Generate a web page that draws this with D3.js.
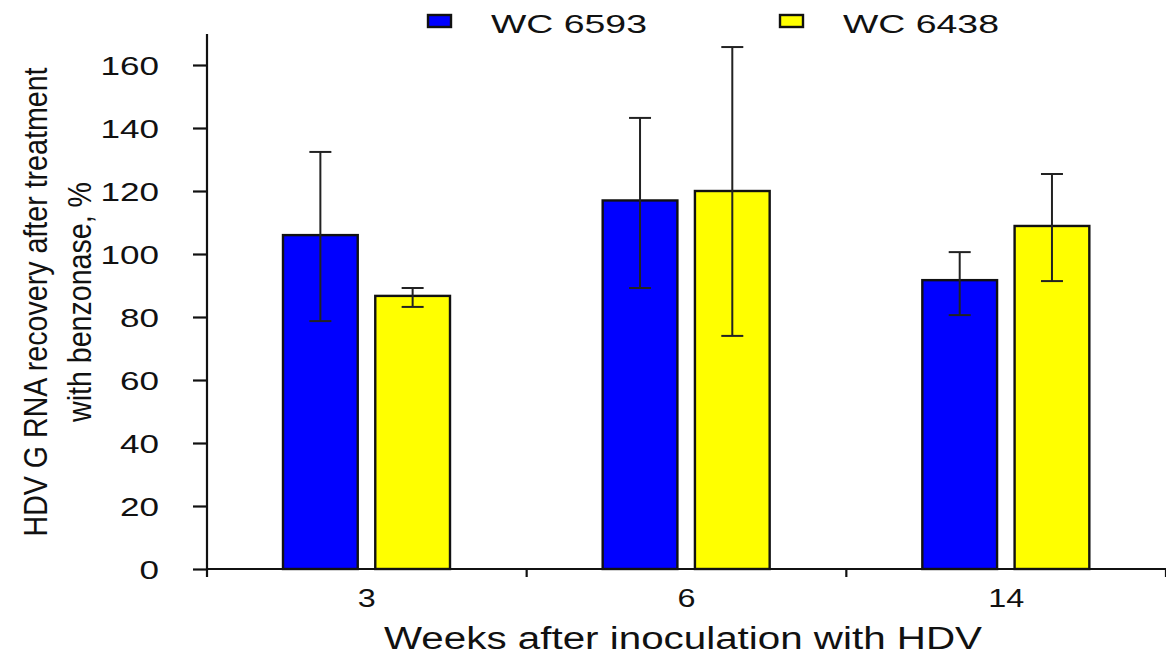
<!DOCTYPE html>
<html><head><meta charset="utf-8">
<script src="https://cdn.jsdelivr.net/npm/d3@7"></script>
<style>body{margin:0;background:#fff}svg{display:block}</style>
</head><body>
<svg id="c" width="1166" height="656"></svg>
<script>
const categories = ["3", "6", "14"];
const seriesNames = ["WC 6593", "WC 6438"];
const seriesColors = ["#0000ff", "#ffff00"];
const wc6593 = [106, 117, 91.7];
const wc6593Hi = [132.4, 143.2, 100.6];
const wc6593Lo = [78.7, 89.2, 80.6];
const wc6438 = [86.7, 120, 108.9];
const wc6438Hi = [89.2, 165.7, 125.4];
const wc6438Lo = [83.2, 74, 91.4];
const yTicks = [0, 20, 40, 60, 80, 100, 120, 140, 160];

const svg = d3.select("#c");
const x0 = d3.scaleBand().domain(categories).range([207, 1166]).paddingInner(0).paddingOuter(0);
const x1 = d3.scaleBand().domain(seriesNames).range([76, 243]).paddingInner(0.19);
const y = d3.scaleLinear().domain([0, 160]).range([569, 65]);

const series = [
  {name: seriesNames[0], color: seriesColors[0], v: wc6593, hi: wc6593Hi, lo: wc6593Lo},
  {name: seriesNames[1], color: seriesColors[1], v: wc6438, hi: wc6438Hi, lo: wc6438Lo}
];

const font = "'Liberation Sans', Arial, sans-serif";
const ink = "#111";

// bars
series.forEach(s => {
  const g = svg.append("g");
  categories.forEach((c, i) => {
    const bx = x0(c) + x1(s.name);
    g.append("rect").attr("x", bx).attr("y", y(s.v[i])).attr("width", x1.bandwidth())
      .attr("height", y(0) - y(s.v[i])).attr("fill", s.color).attr("stroke", ink).attr("stroke-width", 2.4);
    const cx = bx + x1.bandwidth() / 2;
    g.append("line").attr("x1", cx).attr("x2", cx).attr("y1", y(s.hi[i])).attr("y2", y(s.lo[i]))
      .attr("stroke", "#222").attr("stroke-width", 2);
    [s.hi[i], s.lo[i]].forEach(val => {
      g.append("line").attr("x1", cx - 11).attr("x2", cx + 11).attr("y1", y(val)).attr("y2", y(val))
        .attr("stroke", "#222").attr("stroke-width", 2);
    });
  });
});

// y axis
const ya = svg.append("g").attr("transform", "translate(207,0)")
  .call(d3.axisLeft(y).tickValues(yTicks).tickSize(14).tickPadding(34));
ya.select(".domain").attr("d", "M0,34V569").attr("stroke", ink).attr("stroke-width", 2.2);
ya.selectAll(".tick line").attr("stroke", ink).attr("stroke-width", 2.2);
ya.selectAll(".tick text").attr("font-family", font).attr("font-size", 26).attr("fill", ink)
  .attr("dy", "0.35em")
  .attr("textLength", d => String(d).length * 19.5).attr("lengthAdjust", "spacingAndGlyphs");

// x axis
const xa = svg.append("g").attr("transform", "translate(0,569)")
  .call(d3.axisBottom(x0).tickSize(0));
xa.select(".domain").attr("d", "M207,0H1166").attr("stroke", ink).attr("stroke-width", 2.2);
xa.selectAll(".tick text").attr("font-family", font).attr("font-size", 26).attr("fill", ink)
  .attr("y", 38).attr("dy", 0)
  .attr("textLength", d => d.length * 18).attr("lengthAdjust", "spacingAndGlyphs");
const bounds = [0, 1, 2, 3].map(i => 207 + i * x0.bandwidth());
xa.selectAll(".bnd").data(bounds).enter().append("line")
  .attr("x1", d => d).attr("x2", d => d).attr("y1", 0).attr("y2", 8)
  .attr("stroke", ink).attr("stroke-width", 2.2);

// titles
svg.append("text").attr("x", 683).attr("y", 649).attr("text-anchor", "middle")
  .attr("font-family", font).attr("font-size", 31).attr("fill", ink)
  .attr("textLength", 598).attr("lengthAdjust", "spacingAndGlyphs")
  .text("Weeks after inoculation with HDV");
const yt = svg.append("g").attr("transform", "translate(0,302) rotate(-90) scale(1,1.42)");
yt.append("text").attr("x", 0).attr("y", 33).attr("text-anchor", "middle")
  .attr("font-family", font).attr("font-size", 23).attr("fill", ink)
  .attr("textLength", 469).attr("lengthAdjust", "spacingAndGlyphs")
  .text("HDV G RNA recovery after treatment");
yt.append("text").attr("x", 0).attr("y", 64).attr("text-anchor", "middle")
  .attr("font-family", font).attr("font-size", 23).attr("fill", ink)
  .attr("textLength", 240).attr("lengthAdjust", "spacingAndGlyphs")
  .text("with benzonase, %");

// legend
const legX = [428, 780];
series.forEach((s, i) => {
  svg.append("rect").attr("x", legX[i]).attr("y", 15).attr("width", 23).attr("height", 12)
    .attr("fill", s.color).attr("stroke", ink).attr("stroke-width", 2.4);
  svg.append("text").attr("x", legX[i] + 63).attr("y", 33).attr("font-family", font)
    .attr("font-size", 25).attr("fill", ink)
    .attr("textLength", 156).attr("lengthAdjust", "spacingAndGlyphs").text(s.name);
});
</script>
</body></html>
